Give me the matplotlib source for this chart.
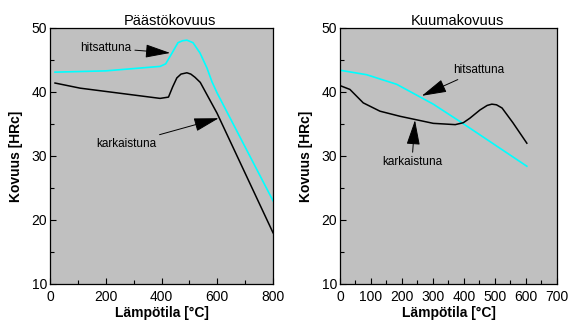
import numpy as np
import matplotlib as mpl
mpl.use("Agg")
import matplotlib.pyplot as plt

mpl.rcParams['font.family'] = ['Liberation Sans', 'DejaVu Sans']
mpl.rcParams['font.size'] = 10

# Päästökovuus (vasen)
T1_hits = [18, 200, 395, 415, 438, 459, 475, 491, 513, 538, 563, 581, 600, 800]
H1_hits = [43.1, 43.3, 44.0, 44.4, 46.1, 47.7, 48.0, 48.1, 47.7, 46.1, 43.75, 41.6, 39.8, 23.0]
T1_kark = [18, 108, 395, 425, 440, 455, 470, 491, 505, 520, 539, 599, 800]
H1_kark = [41.4, 40.6, 39.0, 39.2, 40.8, 42.2, 42.8, 43.0, 42.8, 42.3, 41.5, 36.7, 18.0]

# Kuumakovuus (oikea)
T2_hits = [0, 86, 183, 301, 393, 603]
H2_hits = [43.4, 42.7, 41.2, 38.1, 35.2, 28.4]
T2_kark = [0, 32, 75, 129, 194, 301, 372, 398, 419, 452, 475, 490, 505, 523, 558, 603]
H2_kark = [41.0, 40.4, 38.3, 37.0, 36.2, 35.1, 34.9, 35.2, 35.9, 37.2, 37.9, 38.1, 38.0, 37.5, 35.2, 32.0]

TITLES = ["Päästökovuus", "Kuumakovuus"]
XLABEL = "Lämpötila [°C]"
YLABEL = "Kovuus [HRc]"

fig = plt.figure(figsize=(5.7, 3.21), dpi=100)
ax1 = fig.add_axes([0.0877, 0.1153, 0.3913, 0.7975])
ax2 = fig.add_axes([0.5965, 0.1153, 0.3805, 0.7975])

arrow = dict(arrowstyle='-|>,head_length=1.3,head_width=0.35', color='black',
             lw=0.7, mutation_scale=12, shrinkA=1, shrinkB=0)


def style(ax, title, xmax, xmajor, xminor):
    ax.set_facecolor('#c0c0c0')
    ax.set_xlim(0, xmax)
    ax.set_ylim(10, 50)
    ax.set_xticks(np.arange(0, xmax + 1, xmajor))
    ax.set_xticks(np.arange(0, xmax + 1, xminor), minor=True)
    ax.set_yticks([10, 20, 30, 40, 50])
    ax.set_yticks([15, 25, 35, 45], minor=True)
    ax.tick_params(direction='in', length=4, width=0.8, labelsize=10, pad=2)
    ax.tick_params(axis='x', pad=4)
    ax.tick_params(which='minor', direction='in', length=3, width=0.8)
    for s in ax.spines.values():
        s.set_linewidth(0.9)
    ax.set_title(title, fontsize=10.5, x=0.54, pad=1)
    ax.set_xlabel(XLABEL, fontweight='bold', fontsize=10, labelpad=2)
    ax.set_ylabel(YLABEL, fontweight='bold', fontsize=10, labelpad=6)


ax1.plot(T1_hits, H1_hits, color='cyan', lw=1.2)
ax1.plot(T1_kark, H1_kark, color='black', lw=1.1)
ax1.annotate("hitsattuna", xy=(431, 46.1), xytext=(198, 46.9), fontsize=8.5,
             ha='center', va='center', arrowprops=arrow)
ax1.annotate("karkaistuna", xy=(605, 35.9), xytext=(275, 31.9), fontsize=8.5,
             ha='center', va='center', arrowprops=arrow)
style(ax1, TITLES[0], 800, 200, 100)

ax2.plot(T2_hits, H2_hits, color='cyan', lw=1.2)
ax2.plot(T2_kark, H2_kark, color='black', lw=1.1)
ax2.annotate("hitsattuna", xy=(264, 39.4), xytext=(447, 43.4), fontsize=8.5,
             ha='center', va='center', arrowprops=arrow)
ax2.annotate("karkaistuna", xy=(242, 35.6), xytext=(232, 29.0), fontsize=8.5,
             ha='center', va='center', arrowprops=arrow)
style(ax2, TITLES[1], 700, 100, 50)

plt.savefig("out.png", dpi=100)
